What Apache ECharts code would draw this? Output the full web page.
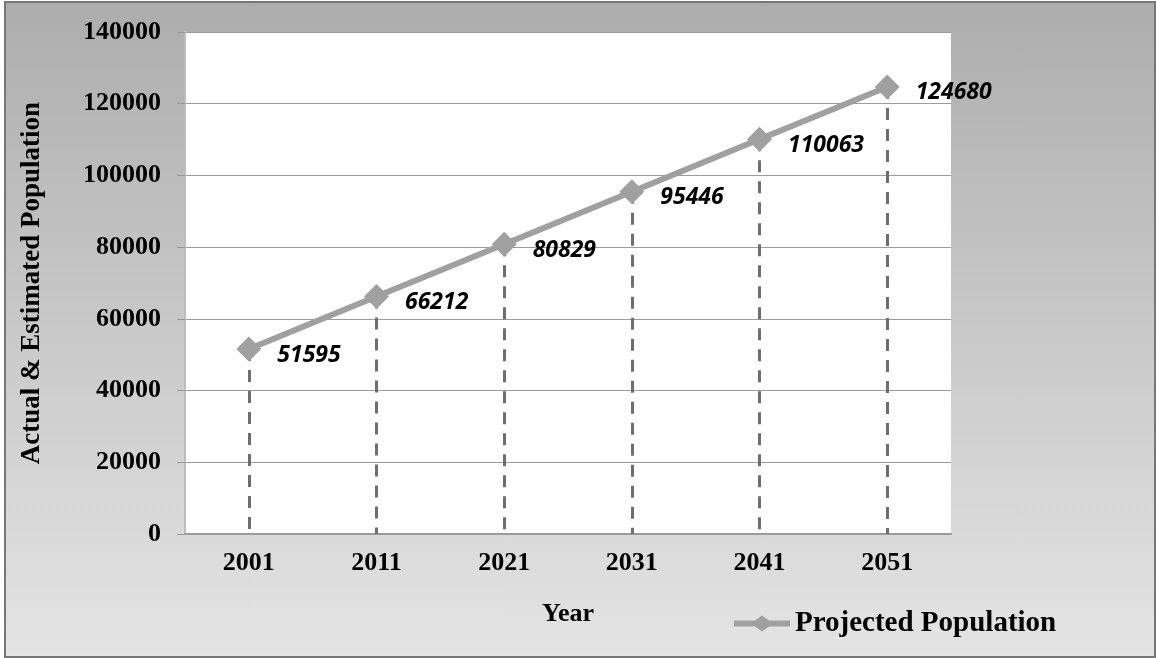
<!DOCTYPE html>
<html>
<head>
<meta charset="utf-8">
<script src="https://cdn.jsdelivr.net/npm/echarts@6/dist/echarts.min.js"></script>
<style>
  html, body { margin: 0; padding: 0; background: #fff; }
  #frame {
    position: absolute; left: 4px; top: 1px; width: 1148px; height: 653px;
    border: 2px solid #777;
    background: linear-gradient(to bottom, #adadad 0%, #c6c6c6 45%, #e4e4e4 100%);
  }
  #chart { position: absolute; left: 0; top: 0; width: 1156px; height: 658px; }
</style>
</head>
<body>
<div id="frame"></div>
<div id="chart"></div>
<script>
const years = ['2001', '2011', '2021', '2031', '2041', '2051'];
const population = [51595, 66212, 80829, 95446, 110063, 124680];

const serif = '"Liberation Serif", "DejaVu Serif", serif';
const chart = echarts.init(document.getElementById('chart'), null, { renderer: 'canvas' });

// dashed drop lines from each point down to the x axis
const dropLines = population.map((v, i) => [
  { coord: [i, v] },
  { coord: [i, 0] }
]);

chart.setOption({
  animation: false,
  backgroundColor: 'transparent',
  grid: {
    left: 185, right: 205, top: 32, bottom: 124,
    show: true, backgroundColor: '#fff', borderWidth: 0
  },
  legend: {
    left: 729, top: 604,
    itemWidth: 56, itemHeight: 16, itemGap: 4,
    textStyle: { fontFamily: serif, fontWeight: 'bold', fontSize: 29, color: '#000' },
    data: [{ name: 'Projected Population', icon: 'path://M0,5 L21,5 L28,0 L35,5 L56,5 L56,11 L35,11 L28,16 L21,11 L0,11 Z', itemStyle: { color: '#a0a0a0' } }]
  },
  xAxis: {
    type: 'category',
    data: years,
    boundaryGap: true,
    name: 'Year',
    nameLocation: 'middle',
    nameGap: 67,
    nameTextStyle: { fontFamily: serif, fontWeight: 'bold', fontSize: 26, color: '#000' },
    axisLine: { lineStyle: { color: '#9a9a9a', width: 2 } },
    axisTick: { show: false },
    axisLabel: { fontFamily: serif, fontWeight: 'bold', fontSize: 26, color: '#000', margin: 16 },
    splitLine: { show: false }
  },
  yAxis: {
    type: 'value',
    min: 0, max: 140000, interval: 20000,
    name: 'Actual & Estimated Population',
    nameLocation: 'middle',
    nameGap: 139,
    nameTextStyle: { fontFamily: serif, fontWeight: 'bold', fontSize: 27, color: '#000' },
    axisLine: { show: true, lineStyle: { color: '#bdbdbd', width: 2 } },
    axisTick: { show: true, length: 8, lineStyle: { color: '#9a9a9a', width: 1 } },
    axisLabel: {
      fontFamily: serif, fontWeight: 'bold', fontSize: 26, color: '#000', margin: 24,
      formatter: v => String(v)
    },
    splitLine: { show: true, lineStyle: { color: '#9c9c9c', width: 1 } }
  },
  series: [{
    name: 'Projected Population',
    type: 'line',
    data: population,
    symbol: 'diamond',
    symbolSize: [25, 25],
    lineStyle: { color: '#a0a0a0', width: 6 },
    itemStyle: { color: '#a0a0a0' },
    z: 3,
    label: {
      show: true,
      position: 'right',
      distance: 16,
      offset: [0, 6],
      fontFamily: '"Open Sans", "Noto Sans", sans-serif',
      fontStyle: 'italic',
      fontWeight: 'bold',
      fontSize: 23,
      color: '#000'
    },
    markLine: {
      silent: true,
      symbol: 'none',
      label: { show: false },
      lineStyle: { color: '#6e6e6e', width: 3, type: [12, 9] },
      z: 2,
      data: dropLines
    }
  }]
});
</script>
</body>
</html>
